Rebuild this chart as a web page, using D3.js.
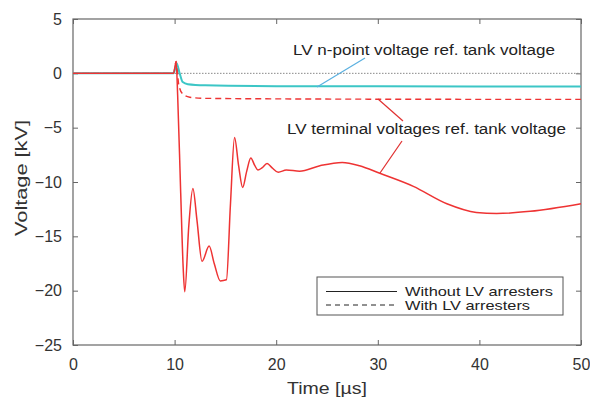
<html>
<head>
<meta charset="utf-8">
<script src="https://d3js.org/d3.v7.min.js"></script>
<style>
  body { margin: 0; background: #fff; }
  text { font-family: "Liberation Sans", Arial, sans-serif; }
</style>
</head>
<body>
<script>
// time [us] and voltage [kV]
const redSolidT = [0, 9.9, 10.15, 10.3, 10.6, 10.85, 11.0, 11.4, 11.8, 12.2, 12.7, 13.4, 13.9, 14.5, 15.1, 15.5, 15.9, 16.3, 16.7, 17.1, 17.5, 17.9, 18.2, 18.6, 19.1, 19.6, 20.2, 21.0, 22.3, 24.3, 26.5, 28.2, 30.2, 33.5, 36.8, 39.7, 41.7, 45, 50];
const redSolidV = [0, 0, 1.1, -2, -11, -18, -20.1, -14, -10.6, -13.5, -17.3, -15.9, -17.5, -19.1, -19.0, -12, -5.9, -8.5, -10.5, -9.0, -7.8, -8.5, -8.9, -8.7, -8.3, -8.7, -9.1, -8.9, -9.0, -8.5, -8.2, -8.5, -9.2, -10.4, -12.0, -12.8, -12.9, -12.7, -12.0];

const redDashT = [0, 9.9, 10.15, 10.4, 10.8, 11.5, 13, 20, 30, 50];
const redDashV = [0, 0, 1.1, -1.0, -1.9, -2.2, -2.3, -2.35, -2.38, -2.4];

const cyanT = [0, 9.9, 10.2, 10.5, 10.8, 11.3, 13, 20, 30, 50];
const cyanV = [0, 0, 0.9, 0, -0.8, -1.0, -1.1, -1.18, -1.2, -1.22];

const zeroT = [0, 50];
const zeroV = [0, 0];

const xTicks = [0, 10, 20, 30, 40, 50];
const yTicks = [5, 0, -5, -10, -15, -20, -25];

const w = 590, h = 398;
const pL = 73, pR = 581, pT = 19, pB = 345;

const svg = d3.select("body").append("svg").attr("width", w).attr("height", h);

const x = d3.scaleLinear().domain([0, 50]).range([pL, pR]);
const y = d3.scaleLinear().domain([-25, 5]).range([pB, pT]);

const line = d3.line().x(d => x(d[0])).y(d => y(d[1])).curve(d3.curveMonotoneX);
const zip = (a, b) => a.map((t, i) => [t, b[i]]);
const fmt = d => (d < 0 ? "\u2212" + Math.abs(d) : String(d));

// plot box
svg.append("rect").attr("x", pL).attr("y", pT).attr("width", pR - pL).attr("height", pB - pT)
  .attr("fill", "none").attr("stroke", "#666").attr("stroke-width", 1.2);

const ax = (g) => g.selectAll(".domain").remove();
const tickStyle = g => g.selectAll(".tick line").attr("stroke", "#666");

svg.append("g").attr("transform", "translate(0," + pB + ")")
  .call(d3.axisBottom(x).tickValues(xTicks).tickSize(-5).tickPadding(14))
  .call(ax).call(tickStyle)
  .selectAll("text").attr("font-size", 16).attr("fill", "#333");
svg.append("g").attr("transform", "translate(0," + pT + ")")
  .call(d3.axisTop(x).tickValues(xTicks).tickSize(-5).tickFormat(""))
  .call(ax).call(tickStyle);
svg.append("g").attr("transform", "translate(" + pL + ",0)")
  .call(d3.axisLeft(y).tickValues(yTicks).tickSize(-5).tickPadding(11).tickFormat(fmt))
  .call(ax).call(tickStyle)
  .selectAll("text").attr("font-size", 16).attr("fill", "#333");
svg.append("g").attr("transform", "translate(" + pR + ",0)")
  .call(d3.axisRight(y).tickValues(yTicks).tickSize(-5).tickFormat(""))
  .call(ax).call(tickStyle);

// series
svg.append("path").attr("d", line(zip(zeroT, zeroV))).attr("fill", "none")
  .attr("stroke", "#888").attr("stroke-width", 1).attr("stroke-dasharray", "1.5,1.5");
svg.append("path").attr("d", line(zip(redDashT, redDashV))).attr("fill", "none")
  .attr("stroke", "#ee3333").attr("stroke-width", 1.4).attr("stroke-dasharray", "6,4");
svg.append("path").attr("d", line(zip(cyanT, cyanV))).attr("fill", "none")
  .attr("stroke", "#3cc6c6").attr("stroke-width", 2);
svg.append("path").attr("d", line(zip(redSolidT, redSolidV))).attr("fill", "none")
  .attr("stroke", "#ee3333").attr("stroke-width", 1.5);

// annotations
svg.append("line").attr("x1", 365).attr("y1", 58).attr("x2", 317).attr("y2", 87)
  .attr("stroke", "#5ab0e0").attr("stroke-width", 1.2);
svg.append("line").attr("x1", 378).attr("y1", 99).attr("x2", 403).attr("y2", 121)
  .attr("stroke", "#e03030").attr("stroke-width", 1.2);
svg.append("line").attr("x1", 402).attr("y1", 141).attr("x2", 380).attr("y2", 173)
  .attr("stroke", "#e03030").attr("stroke-width", 1.2);
svg.append("text").attr("x", 293).attr("y", 55).attr("font-size", 15.5).attr("fill", "#222")
  .attr("textLength", 262).attr("lengthAdjust", "spacingAndGlyphs")
  .text("LV n-point voltage ref. tank voltage");
svg.append("text").attr("x", 287).attr("y", 134).attr("font-size", 15.5).attr("fill", "#222")
  .attr("textLength", 279).attr("lengthAdjust", "spacingAndGlyphs")
  .text("LV terminal voltages ref. tank voltage");

// legend
svg.append("rect").attr("x", 317).attr("y", 277).attr("width", 246).attr("height", 38)
  .attr("fill", "#fff").attr("stroke", "#555").attr("stroke-width", 1);
svg.append("line").attr("x1", 326).attr("x2", 397).attr("y1", 291.5).attr("y2", 291.5)
  .attr("stroke", "#222").attr("stroke-width", 1);
svg.append("line").attr("x1", 326).attr("x2", 397).attr("y1", 305).attr("y2", 305)
  .attr("stroke", "#222").attr("stroke-width", 1).attr("stroke-dasharray", "5,4");
svg.append("text").attr("x", 405).attr("y", 296).attr("font-size", 13.5).attr("fill", "#222")
  .attr("textLength", 148).attr("lengthAdjust", "spacingAndGlyphs").text("Without LV arresters");
svg.append("text").attr("x", 405).attr("y", 310).attr("font-size", 13.5).attr("fill", "#222")
  .attr("textLength", 125).attr("lengthAdjust", "spacingAndGlyphs").text("With LV arresters");

// axis labels
svg.append("text").attr("x", 327).attr("y", 394).attr("text-anchor", "middle").attr("font-size", 16.5).attr("fill", "#333")
  .attr("textLength", 80).attr("lengthAdjust", "spacingAndGlyphs").text("Time [\u00b5s]");
svg.append("text").attr("transform", "translate(27,178) rotate(-90)").attr("text-anchor", "middle")
  .attr("font-size", 17).attr("fill", "#333")
  .attr("textLength", 116).attr("lengthAdjust", "spacingAndGlyphs").text("Voltage [kV]");
</script>
</body>
</html>
